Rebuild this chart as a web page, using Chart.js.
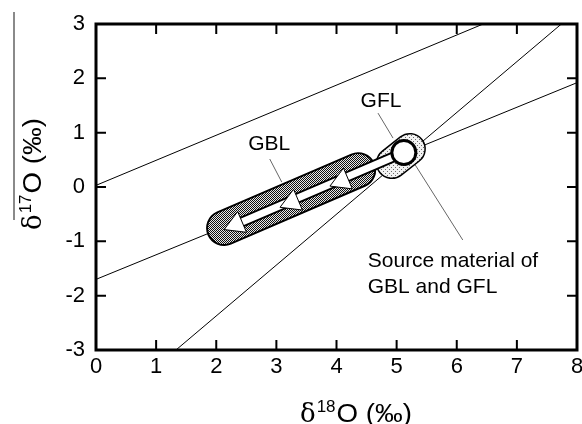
<!DOCTYPE html>
<html>
<head>
<meta charset="utf-8">
<script src="https://cdn.jsdelivr.net/npm/chart.js@4.4.1/dist/chart.umd.min.js"></script>
<style>
  html, body { margin: 0; padding: 0; background: #fff; }
  canvas { display: block; }
</style>
</head>
<body>
<canvas id="oxyChart" width="582" height="424"></canvas>
<script>
// axis ticks
const xTickValues = [0, 1, 2, 3, 4, 5, 6, 7, 8];
const yTickValues = [-3, -2, -1, 0, 1, 2, 3];

// reference lines, two end points each (d18O, d17O)
const upperLineX = [0, 8];
const upperLineY = [0.03, 3.72];
const gblLineX = [0, 8];
const gblLineY = [-1.70, 1.92];
const steepLineX = [1.33, 7.74];
const steepLineY = [-3, 3];

// GBL field (dark band) and GFL field (dotted band)
const gblFieldX = [2.13, 4.36];
const gblFieldY = [-0.755, 0.31];
const gflFieldX = [4.92, 5.22];
const gflFieldY = [0.44, 0.70];

// source material and the evolution arrow
const sourceX = [5.12];
const sourceY = [0.635];
const arrowX = [5.12, 2.33];
const arrowY = [0.635, -0.69];
const headX = [4.09, 3.26, 2.33];
const headY = [0.11, -0.28, -0.69];

// labels and their leader lines
const noteText = ["GBL", "GFL", "Source material of", "GBL and GFL"];
const noteX = [2.88, 4.74, 4.52, 4.52];
const noteY = [0.81, 1.60, -1.47, -1.95];
const leaderGblX = [2.89, 3.09];
const leaderGblY = [0.515, 0.09];
const leaderGflX = [4.69, 4.94];
const leaderGflY = [1.36, 0.90];
const leaderSrcX = [5.31, 6.10];
const leaderSrcY = [0.405, -0.975];

function pts(xs, ys) {
  return xs.map((x, i) => ({ x: x, y: ys[i] }));
}

function makePattern(size, bg, ink, dots) {
  const c = document.createElement("canvas");
  c.width = size;
  c.height = size;
  const g = c.getContext("2d");
  g.fillStyle = bg;
  g.fillRect(0, 0, size, size);
  g.fillStyle = ink;
  dots.forEach(d => g.fillRect(d[0], d[1], 1, 1));
  return g.createPattern(c, "repeat");
}

const darkStipple = makePattern(2, "#e8e8e8", "#111", [[0, 0], [1, 1]]);
const lightStipple = makePattern(4, "#f2f2f2", "#6a6a6a", [[1, 1], [3, 3]]);

function lineSet(data, color, width, order, cap) {
  return {
    data: data,
    showLine: true,
    borderColor: color,
    borderWidth: width,
    borderCapStyle: cap || "butt",
    pointRadius: 0,
    order: order
  };
}

const frame = {
  id: "frame",
  afterDraw(chart) {
    const c = chart.ctx;
    const a = chart.chartArea;
    const xs = chart.scales.x;
    const ys = chart.scales.y;
    c.save();
    c.strokeStyle = "#000";

    // inward tick marks on all four sides
    c.lineWidth = 2;
    xTickValues.slice(1, -1).forEach(v => {
      const px = xs.getPixelForValue(v);
      c.beginPath();
      c.moveTo(px, a.bottom); c.lineTo(px, a.bottom - 10);
      c.moveTo(px, a.top); c.lineTo(px, a.top + 10);
      c.stroke();
    });
    yTickValues.slice(1, -1).forEach(v => {
      const py = ys.getPixelForValue(v);
      c.beginPath();
      c.moveTo(a.left, py); c.lineTo(a.left + 10, py);
      c.moveTo(a.right, py); c.lineTo(a.right - 10, py);
      c.stroke();
    });

    c.lineWidth = 3;
    c.strokeRect(a.left, a.top, a.right - a.left, a.bottom - a.top);

    // annotations
    c.fillStyle = "#000";
    c.font = "21px 'Liberation Sans', Arial, sans-serif";
    c.textBaseline = "alphabetic";
    noteText.forEach((t, i) => {
      const px = xs.getPixelForValue(noteX[i]);
      const py = ys.getPixelForValue(noteY[i]);
      c.textAlign = i < 2 ? "center" : "left";
      c.fillText(t, px, i < 2 ? py + 7 : py);
    });

    // axis titles
    drawTitle(c, "18", 300, 422, 0);
    drawTitle(c, "17", 41, 230, -Math.PI / 2);

    // thin rule at the left margin
    c.strokeStyle = "#8a8a8a";
    c.lineWidth = 2;
    c.beginPath();
    c.moveTo(14, 12);
    c.lineTo(14, 220);
    c.stroke();
    c.restore();
  }
};

// delta symbol, superscript mass number, then "O (‰)" stretched to a fixed length
function drawTitle(c, sup, x, y, angle) {
  c.save();
  c.translate(x, y);
  c.rotate(angle);
  c.textAlign = "left";
  c.textBaseline = "alphabetic";
  c.font = "26px 'DejaVu Serif', 'Liberation Serif', serif";
  c.fillText("\u03b4", 0, 0);
  let pos = c.measureText("\u03b4").width + 1;
  c.font = "17px 'Liberation Sans', Arial, sans-serif";
  c.fillText(sup, pos, -10);
  pos += c.measureText(sup).width + 1;
  c.font = "25px 'Liberation Sans', Arial, sans-serif";
  const rest = "O (\u2030)";
  const w = c.measureText(rest).width;
  c.translate(pos, 0);
  c.scale((112 - pos) / w, 1);
  c.fillText(rest, 0, 0);
  c.restore();
}

const tickFont = { family: "'Liberation Sans', Arial, sans-serif", size: 22 };

new Chart(document.getElementById("oxyChart"), {
  type: "scatter",
  data: {
    datasets: [
      lineSet(pts(upperLineX, upperLineY), "#000", 1, 20),
      lineSet(pts(gblLineX, gblLineY), "#000", 1, 20),
      lineSet(pts(steepLineX, steepLineY), "#000", 1, 20),
      lineSet(pts(leaderGblX, leaderGblY), "#666", 1, 19),
      lineSet(pts(leaderGflX, leaderGflY), "#666", 1, 19),
      lineSet(pts(leaderSrcX, leaderSrcY), "#666", 1, 19),
      lineSet(pts(gblFieldX, gblFieldY), "#000", 36, 12, "round"),
      lineSet(pts(gblFieldX, gblFieldY), darkStipple, 32, 11, "round"),
      lineSet(pts(gflFieldX, gflFieldY), "#000", 32, 10, "round"),
      lineSet(pts(gflFieldX, gflFieldY), lightStipple, 29, 9, "round"),
      lineSet(pts(arrowX, arrowY), "#000", 11, 8),
      lineSet(pts(arrowX, arrowY), "#fff", 7, 7),
      {
        data: pts(headX, headY),
        pointStyle: "triangle",
        pointRadius: 13,
        rotation: 247,
        backgroundColor: "#fff",
        borderColor: "#000",
        borderWidth: 1,
        order: 6
      },
      {
        data: pts(sourceX, sourceY),
        pointRadius: 12,
        backgroundColor: "#fff",
        borderColor: "#000",
        borderWidth: 3,
        order: 1
      }
    ]
  },
  options: {
    responsive: false,
    animation: false,
    devicePixelRatio: 1,
    layout: { autoPadding: false, padding: { left: 0, right: 5, top: 24, bottom: 0 } },
    plugins: { legend: { display: false }, tooltip: { enabled: false } },
    scales: {
      x: {
        type: "linear",
        min: 0,
        max: 8,
        afterBuildTicks: s => { s.ticks = xTickValues.map(v => ({ value: v })); },
        afterFit: s => { s.height = 74; s.paddingLeft = 0; s.paddingRight = 0; },
        ticks: { font: tickFont, color: "#000", padding: 4 },
        grid: { display: false, drawTicks: false },
        border: { display: false }
      },
      y: {
        type: "linear",
        min: -3,
        max: 3,
        afterBuildTicks: s => { s.ticks = yTickValues.map(v => ({ value: v })); },
        afterFit: s => { s.width = 96; s.paddingTop = 0; s.paddingBottom = 0; },
        ticks: { font: tickFont, color: "#000", padding: 11 },
        grid: { display: false, drawTicks: false },
        border: { display: false }
      }
    }
  },
  plugins: [frame]
});
</script>
</body>
</html>
